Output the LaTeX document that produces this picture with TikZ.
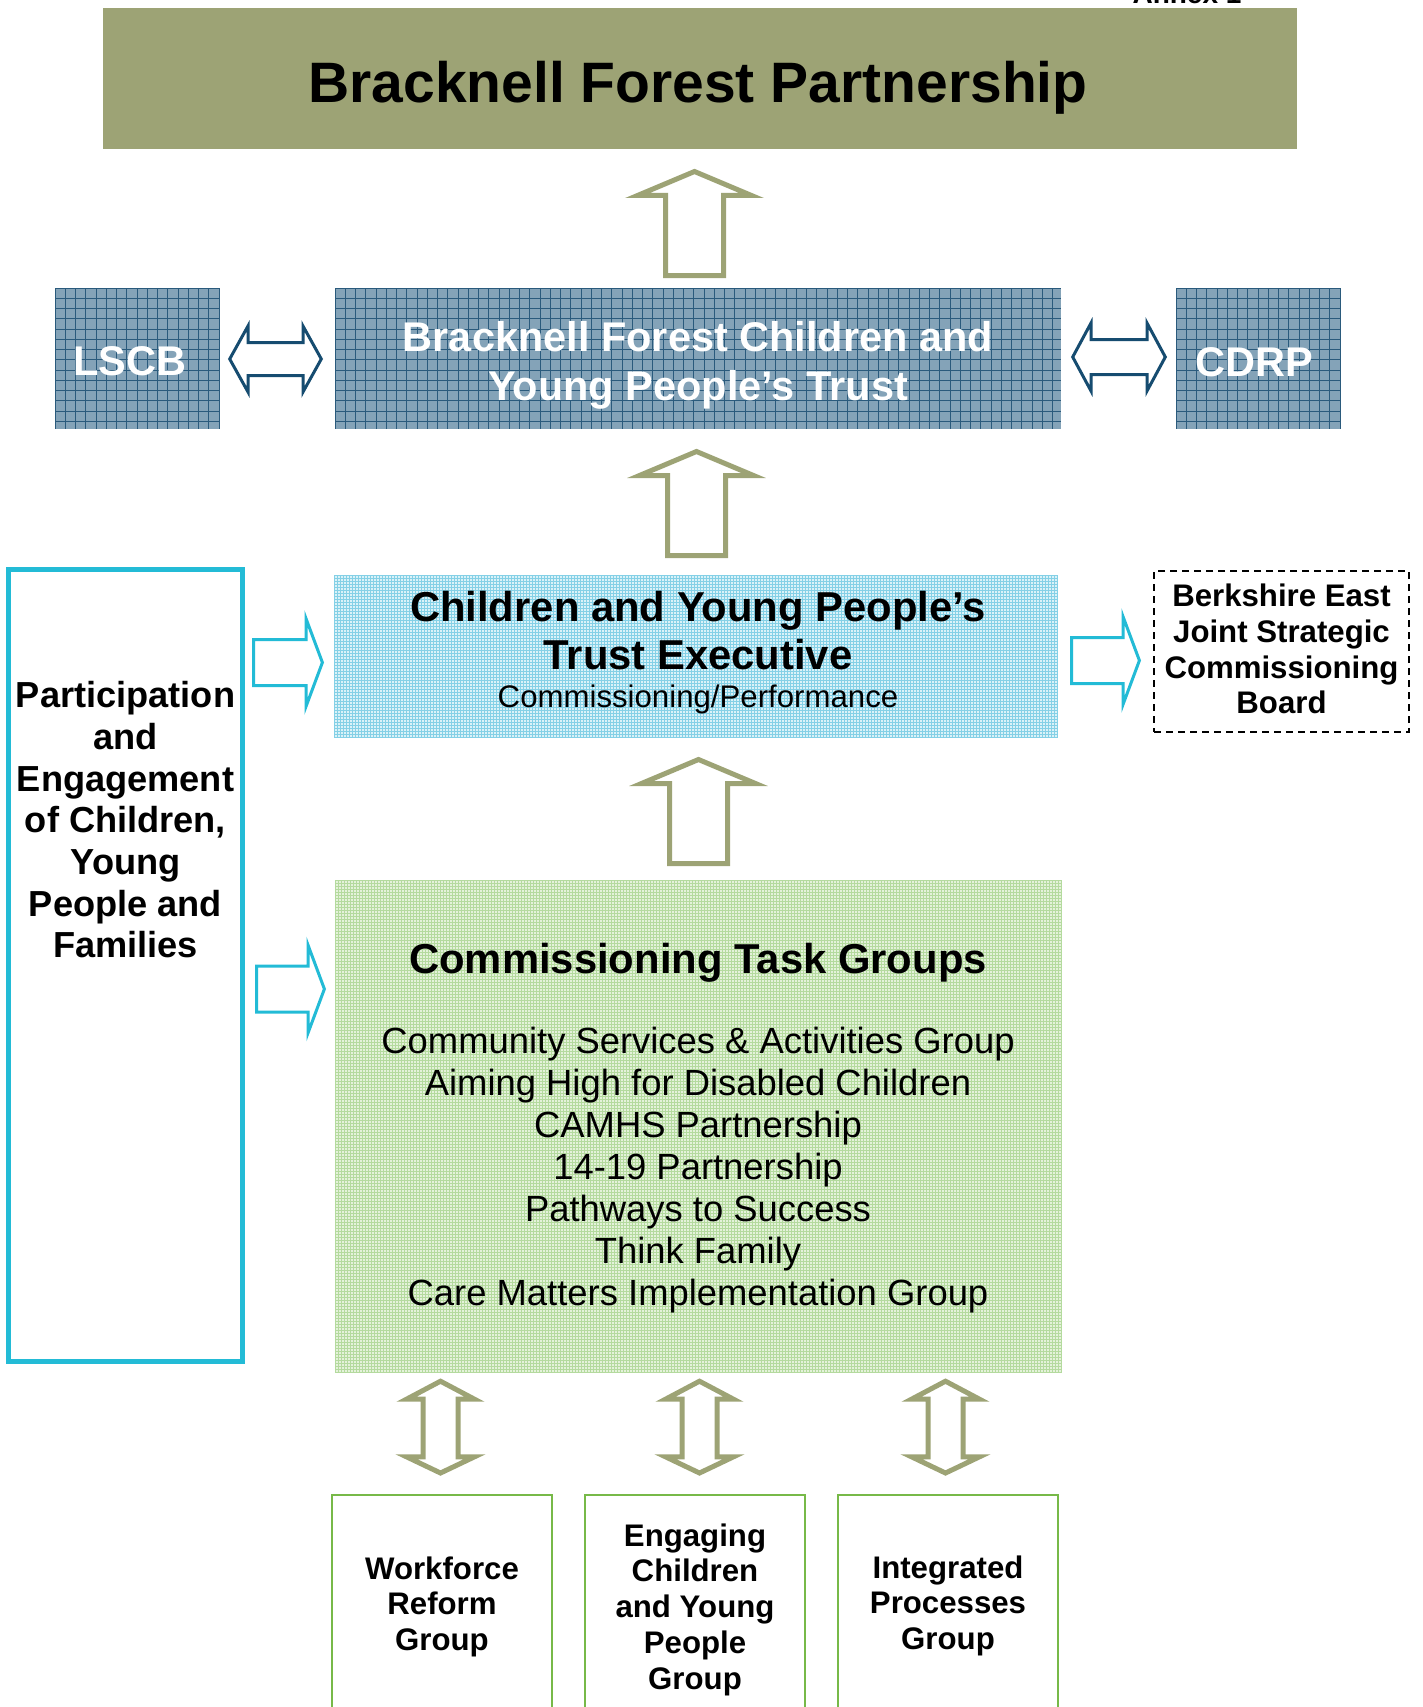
\documentclass[tikz,border=0pt]{standalone}
\usepackage{fontspec}
\setmainfont{Liberation Sans}
\definecolor{olivec}{RGB}{157,163,117}
\definecolor{bluefillc}{RGB}{132,163,184}
\definecolor{bluelinec}{RGB}{42,90,124}
\definecolor{navyc}{RGB}{22,76,112}
\definecolor{cyanc}{RGB}{35,187,214}
\definecolor{execbase}{RGB}{218,242,248}
\definecolor{execline}{RGB}{132,208,230}
\definecolor{grnbase}{RGB}{228,242,218}
\definecolor{grnline}{RGB}{180,218,158}
\definecolor{grnborder}{RGB}{119,185,72}
\newcommand\gridbox[6]{%
  \begin{scope}
  \clip (#1,#2) rectangle (#3,#4);
  \pgfmathsetmacro\gbnx{int((#3-#1)/#5)}
  \foreach \k in {0,...,\gbnx} \draw[#6] ({#1+\k*#5},#2) -- ({#1+\k*#5},#4);
  \pgfmathsetmacro\gbny{int((#4-#2)/#5)}
  \foreach \k in {0,...,\gbny} \draw[#6] (#1,{#2+\k*#5}) -- (#3,{#2+\k*#5});
  \end{scope}}
% up block arrow: cx, tip y, bottom y
\newcommand\upblock[3]{%
  \draw[oliveline] (#1,{#2+3.5}) -- ({#1+57},{#2+27.5}) -- ({#1+29},{#2+27.5}) -- ({#1+29},{#3-2.5})
    -- ({#1-29},{#3-2.5}) -- ({#1-29},{#2+27.5}) -- ({#1-57},{#2+27.5}) -- cycle;}
% horizontal double arrow: xl tip, xr tip, left back, right back, ymid, head half, shaft half
\newcommand\hdbl[7]{%
  \draw[navyline] (#1,#5) -- (#3,{#5-#6}) -- (#3,{#5-#7}) -- (#4,{#5-#7}) -- (#4,{#5-#6}) -- (#2,#5)
    -- (#4,{#5+#6}) -- (#4,{#5+#7}) -- (#3,{#5+#7}) -- (#3,{#5+#6}) -- cycle;}
% vertical double arrow: cx, top tip, top shoulder, bottom shoulder, bottom tip, head half, shaft half
\newcommand\vdbl[7]{%
  \draw[oliveline] (#1,#2) -- ({#1+#6},#3) -- ({#1+#7},#3) -- ({#1+#7},#4) -- ({#1+#6},#4) -- (#1,#5)
    -- ({#1-#6},#4) -- ({#1-#7},#4) -- ({#1-#7},#3) -- ({#1-#6},#3) -- cycle;}
% right arrow: shaft left x, head back x, tip x, ymid, head half, shaft half
\newcommand\rblock[6]{%
  \draw[cyanline] (#1,{#4-#6}) -- (#2,{#4-#6}) -- (#2,{#4-#5}) -- (#3,#4) -- (#2,{#4+#5}) -- (#2,{#4+#6})
    -- (#1,{#4+#6}) -- cycle;}
\begin{document}
\begin{tikzpicture}[x=1pt,y=-1pt,
  txt/.style={inner sep=0pt, outer sep=0pt, align=center, text=black},
  boxbase/.style={anchor=north west, inner sep=0pt, outer sep=0pt},
  oliveline/.style={draw=olivec, line width=5pt, fill=white, line join=miter},
  navyline/.style={draw=navyc, line width=3pt, fill=white, line join=miter},
  cyanline/.style={draw=cyanc, line width=3pt, fill=white, line join=miter},
  bluegrid/.style={draw=bluelinec, line width=1pt},
  execgrid/.style={draw=execline, line width=0.6pt},
  grngrid/.style={draw=grnline, line width=0.6pt},
  ttl/.style={txt, font=\fontsize{41.8}{48}\selectfont\bfseries},
  whitettl/.style={ttl, text=white, font=\fontsize{41.5}{49}\selectfont\bfseries},
  smallb/.style={txt, font=\fontsize{31.2}{35.75}\selectfont\bfseries}
]
\useasboundingbox (0,0) rectangle (1423,1707);

% Annex (cut off at the top, as in the original)
\node[txt, anchor=base, font=\fontsize{28}{33}\selectfont\bfseries] (annex) at (1187,4) {Annex 1};

% Bracknell Forest Partnership
\node[boxbase, fill=olivec, minimum width=1194pt, minimum height=141pt] (bfp) at (103,8) {};
\node[txt, anchor=base, font=\fontsize{57}{68}\selectfont\bfseries] (bfpT) at (698,103) {Bracknell Forest Partnership};

% blue boxes
\node[boxbase, fill=bluefillc, minimum width=165pt, minimum height=141pt] (lscb) at (55,288) {};
\node[boxbase, fill=bluefillc, minimum width=726pt, minimum height=141pt] (trust) at (335,288) {};
\node[boxbase, fill=bluefillc, minimum width=165pt, minimum height=141pt] (cdrp) at (1176,288) {};
\gridbox{55}{288}{220}{429}{10.25}{bluegrid}
\gridbox{335}{288}{1061}{429}{10.25}{bluegrid}
\gridbox{1176}{288}{1341}{429}{10.25}{bluegrid}
\node[whitettl, anchor=base] (lscbT) at (130,375) {LSCB};
\node[whitettl, anchor=base] (cdrpT) at (1254,376) {CDRP};
\node[whitettl] (trustT) at (698,365.6) {Bracknell Forest Children and\\Young People’s Trust};

% executive
\node[boxbase, fill=execbase, minimum width=724pt, minimum height=163pt] (exec) at (334,575) {};
\gridbox{334}{575}{1058}{738}{3}{execgrid}
\node[ttl] (execT) at (698,630.8) {Children and Young People’s\\Trust Executive};
\node[txt, anchor=base, font=\fontsize{31.2}{37}\selectfont] (execS) at (698,707) {Commissioning/Performance};

% commissioning task groups
\node[boxbase, fill=grnbase, minimum width=727pt, minimum height=492pt] (ctg) at (335,880) {};
\gridbox{335}{880}{1062}{1372}{3}{grngrid}
\node[ttl, anchor=base] (ctgT) at (698,973) {Commissioning Task Groups};
\node[txt, font=\fontsize{36.4}{42}\selectfont] (ctgL) at (698,1169.6) {Community Services \& Activities Group\\Aiming High for Disabled Children\\CAMHS Partnership\\14-19 Partnership\\Pathways to Success\\Think Family\\Care Matters Implementation Group};

% participation box
\node[boxbase, draw=cyanc, line width=5pt, minimum width=234pt, minimum height=792pt] (pe) at (8.5,569.5) {};
\node[txt, font=\fontsize{36.2}{41.7}\selectfont\bfseries] (peT) at (125.5,819.9) {Participation\\and\\Engagement\\of Children,\\Young\\People and\\Families};

% Berkshire East
\node[boxbase, draw=black, line width=2pt, dash pattern=on 7pt off 5pt, minimum width=255pt, minimum height=161pt] (bejscb) at (1154,571) {};
\node[smallb] (bejscbT) at (1281.5,649.1) {Berkshire East\\Joint Strategic\\Commissioning\\Board};

% bottom groups
\node[boxbase, draw=grnborder, line width=2.5pt, minimum width=220pt, minimum height=240pt] (wrg) at (332,1495) {};
\node[boxbase, draw=grnborder, line width=2.5pt, minimum width=220pt, minimum height=240pt] (ecyp) at (585,1495) {};
\node[boxbase, draw=grnborder, line width=2.5pt, minimum width=220pt, minimum height=240pt] (ipg) at (838,1495) {};
\node[smallb] (wrgT) at (442,1606.8) {Workforce\\Reform\\Group};
\node[smallb] (ecypT) at (695,1609.5) {Engaging\\Children\\and Young\\People\\Group};
\node[smallb] (ipgT) at (948,1605.8) {Integrated\\Processes\\Group};

% block arrows
\upblock{694.5}{168}{278}
\upblock{696.5}{448}{558}
\upblock{698.5}{756}{866}
\hdbl{229.7}{321.3}{248}{303}{359}{33}{16.5}
\hdbl{1072.7}{1165.3}{1091}{1147}{357}{34}{17.5}
\rblock{253.5}{306}{322.4}{662.5}{44}{23}
\rblock{256.5}{308}{324.4}{989}{44}{23}
\rblock{1071.5}{1123}{1139.4}{660.5}{44}{23}
\vdbl{440.5}{1381.2}{1399.2}{1456.8}{1473}{34}{17.5}
\vdbl{699.5}{1381.2}{1399.2}{1456.8}{1473}{34}{17.5}
\vdbl{945.5}{1381.2}{1399.2}{1456.8}{1473}{34}{17.5}
\end{tikzpicture}
\end{document}
